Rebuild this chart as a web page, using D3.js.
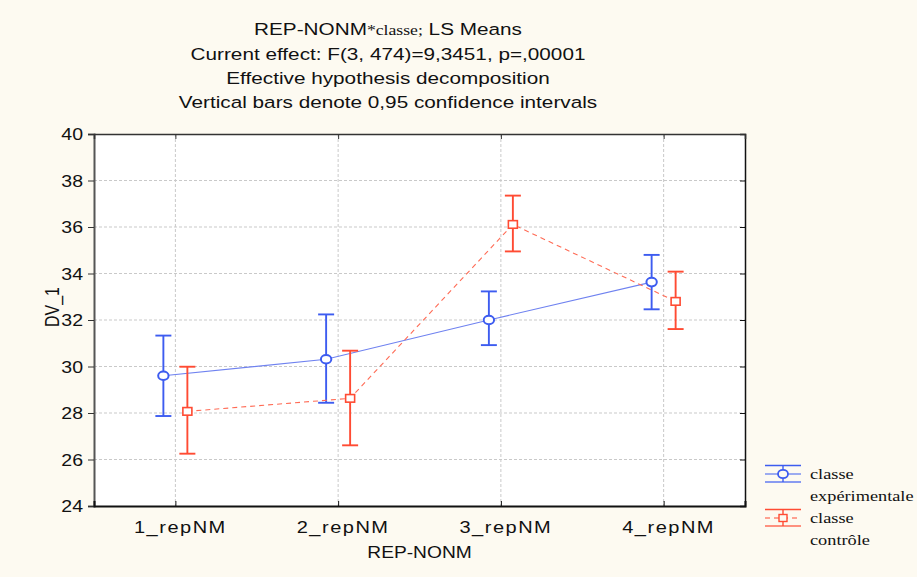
<!DOCTYPE html>
<html><head><meta charset="utf-8">
<script src="https://cdn.jsdelivr.net/npm/d3@7"></script>
<style>
html,body{margin:0;padding:0;background:#fdfaf1;}
svg{display:block;}
</style></head>
<body>
<script>
const categories = ["1_repNM","2_repNM","3_repNM","4_repNM"];
const expMean = [29.6, 30.31, 32.0, 33.63];
const expLow  = [27.87, 28.44, 30.92, 32.46];
const expHigh = [31.33, 32.24, 33.23, 34.8];
const ctlMean = [28.07, 28.63, 36.11, 32.8];
const ctlLow  = [26.25, 26.61, 34.95, 31.61];
const ctlHigh = [29.99, 30.68, 37.35, 34.08];
const yTicks = [24,26,28,30,32,34,36,38,40];
const seriesNames = [["classe","expérimentale"],["classe","contrôle"]];
const titleLines = ["Current effect: F(3, 474)=9,3451, p=,00001","Effective hypothesis decomposition","Vertical bars denote 0,95 confidence intervals"];

const W=917,H=577, SX=1.22;
const L=94,R=745,T=134,B=506;
const sans="'Liberation Sans', Arial, sans-serif", serif="'Liberation Serif', 'Times New Roman', serif";
const svg=d3.select("body").append("svg").attr("width",W).attr("height",H);
svg.append("rect").attr("width",W).attr("height",H).attr("fill","#fdfaf1");

const x=d3.scalePoint().domain(categories).range([L,R]).padding(0.5);
const y=d3.scaleLinear().domain([24,40]).range([B,T]);

svg.append("rect").attr("x",L).attr("y",T).attr("width",R-L).attr("height",B-T).attr("fill","#fff");

// grid
const g=svg.append("g");
g.selectAll(".hg").data(yTicks.slice(1,-1)).enter().append("line")
 .attr("x1",L).attr("x2",R).attr("y1",d=>y(d)).attr("y2",d=>y(d))
 .attr("stroke","#c9c9c9").attr("stroke-width",1).attr("stroke-dasharray","3,2");
g.selectAll(".vg").data(categories).enter().append("line")
 .attr("x1",d=>x(d)).attr("x2",d=>x(d)).attr("y1",T).attr("y2",B)
 .attr("stroke","#c9c9c9").attr("stroke-width",1).attr("stroke-dasharray","3,2");

// axes via d3
const yAxis=svg.append("g").attr("transform",`translate(${L},0)`)
 .call(d3.axisLeft(y).tickValues(yTicks).tickSize(6).tickFormat(""));
yAxis.select(".domain").attr("stroke","#555").attr("stroke-width",2);
yAxis.selectAll(".tick line").attr("stroke","#333");
const yAxisR=svg.append("g").attr("transform",`translate(${R},0)`)
 .call(d3.axisLeft(y).tickValues(yTicks).tickSize(5).tickFormat(""));
yAxisR.select(".domain").attr("stroke","#111").attr("stroke-width",1.5);
yAxisR.selectAll(".tick line").attr("stroke","#111").attr("x2",-5);
const xAxis=svg.append("g").attr("transform",`translate(0,${B})`)
 .call(d3.axisTop(x).tickSize(5).tickFormat(""));
xAxis.select(".domain").attr("stroke","#111").attr("stroke-width",2);
xAxis.selectAll(".tick line").attr("stroke","#111");
const xAxisT=svg.append("g").attr("transform",`translate(0,${T})`)
 .call(d3.axisBottom(x).tickSize(5).tickFormat(""));
xAxisT.select(".domain").attr("stroke","#333").attr("stroke-width",1.5);
xAxisT.selectAll(".tick line").attr("stroke","#333");

// tick labels (stretched)
svg.selectAll(".yl").data(yTicks).enter().append("text")
 .attr("transform",d=>`translate(83,${y(d)+6}) scale(${SX},1)`)
 .attr("text-anchor","end").attr("font-family",sans).attr("font-size",16).attr("fill","#111").text(d=>d);
svg.selectAll(".xl").data(categories).enter().append("text")
 .attr("transform",d=>`translate(${x(d)+5},${B+27}) scale(1.25,1)`)
 .attr("text-anchor","middle").attr("font-family",sans).attr("font-size",16).attr("letter-spacing",1.2)
 .attr("fill","#111").text(d=>d);

// axis titles
svg.append("text").attr("transform",`translate(${(L+R)/2},${B+52}) scale(1.2,1)`)
 .attr("text-anchor","middle").attr("font-family",sans).attr("font-size",16).attr("fill","#111").text("REP-NONM");
svg.append("text").attr("transform",`translate(59,307) scale(${SX},1) rotate(-90)`)
 .attr("text-anchor","middle").attr("font-family",sans).attr("font-size",16).attr("fill","#111").text("DV_1");

// titles
const t1=svg.append("text").attr("transform",`translate(388,35) scale(${SX},1)`)
 .attr("text-anchor","middle").attr("font-family",sans).attr("font-size",17).attr("fill","#111");
t1.append("tspan").text("REP-NONM");
t1.append("tspan").attr("font-family",serif).attr("font-size",14.5).text("*classe;");
t1.append("tspan").text(" LS Means");
svg.selectAll(".tl").data(titleLines).enter().append("text")
 .attr("transform",(d,i)=>`translate(388,${59.5+i*24.3}) scale(${SX},1)`)
 .attr("text-anchor","middle").attr("font-family",sans).attr("font-size",17).attr("fill","#111").text(d=>d);

// series
const blue="#3d5cf0", blueLine="#6f82f0", red="#ff4b33", redLine="#ff6b55";
const off=12, cap=8;
function series(mean,lo,hi,dx,col,lcol,dash,marker){
  const pts=categories.map((c,i)=>({x:x(c)+dx,m:mean[i],lo:lo[i],hi:hi[i]}));
  const line=d3.line().x(d=>d.x).y(d=>y(d.m));
  svg.append("path").datum(pts).attr("d",line).attr("fill","none").attr("stroke",lcol)
    .attr("stroke-width",1.1).attr("stroke-dasharray",dash);
  const eg=svg.append("g").attr("stroke",col).attr("stroke-width",1.9);
  eg.selectAll(".v").data(pts).enter().append("line").attr("x1",d=>d.x).attr("x2",d=>d.x).attr("y1",d=>y(d.lo)).attr("y2",d=>y(d.hi));
  eg.selectAll(".c1").data(pts).enter().append("line").attr("x1",d=>d.x-cap).attr("x2",d=>d.x+cap).attr("y1",d=>y(d.lo)).attr("y2",d=>y(d.lo));
  eg.selectAll(".c2").data(pts).enter().append("line").attr("x1",d=>d.x-cap).attr("x2",d=>d.x+cap).attr("y1",d=>y(d.hi)).attr("y2",d=>y(d.hi));
  if(marker==="circle"){
    svg.selectAll(null).data(pts).enter().append("ellipse").attr("cx",d=>d.x).attr("cy",d=>y(d.m))
      .attr("rx",5.2).attr("ry",4.3).attr("fill","#fff").attr("stroke",col).attr("stroke-width",2);
  } else {
    svg.selectAll(null).data(pts).enter().append("rect").attr("x",d=>d.x-4.5).attr("y",d=>y(d.m)-3.8)
      .attr("width",9).attr("height",7.6).attr("fill","#fff").attr("stroke",col).attr("stroke-width",1.6);
  }
}
series(expMean,expLow,expHigh,-off,blue,blueLine,null,"circle");
series(ctlMean,ctlLow,ctlHigh,off,red,redLine,"5,4","square");

// legend
function legendItem(cy,col,dash,marker,names){
  const lg=svg.append("g");
  const x1=765,x2=801,cx=783;
  lg.append("line").attr("x1",x1).attr("x2",x2).attr("y1",cy-8.5).attr("y2",cy-8.5).attr("stroke",col).attr("stroke-width",1.4);
  lg.append("line").attr("x1",x1).attr("x2",x2).attr("y1",cy+8).attr("y2",cy+8).attr("stroke",col).attr("stroke-width",1.4).attr("opacity",0.8);
  lg.append("line").attr("x1",x1).attr("x2",x2).attr("y1",cy).attr("y2",cy).attr("stroke",col).attr("stroke-width",1.2).attr("stroke-dasharray",dash);
  lg.append("line").attr("x1",cx).attr("x2",cx).attr("y1",cy-8.5).attr("y2",cy+8).attr("stroke",col).attr("stroke-width",1.4);
  if(marker==="circle") lg.append("ellipse").attr("cx",cx).attr("cy",cy).attr("rx",5).attr("ry",4.2).attr("fill","#fdfaf1").attr("stroke",col).attr("stroke-width",1.8);
  else lg.append("rect").attr("x",cx-4).attr("y",cy-3.5).attr("width",8).attr("height",7).attr("fill","#fdfaf1").attr("stroke",col).attr("stroke-width",1.4);
  names.forEach((n,i)=>{
    lg.append("text").attr("transform",`translate(810,${cy+5+i*21.5}) scale(${SX},1)`)
      .attr("font-family",serif).attr("font-size",15).attr("fill","#111").text(n);
  });
}
legendItem(474,blue,null,"circle",seriesNames[0]);
legendItem(518,red,"5,4","square",seriesNames[1]);
</script>
</body></html>
